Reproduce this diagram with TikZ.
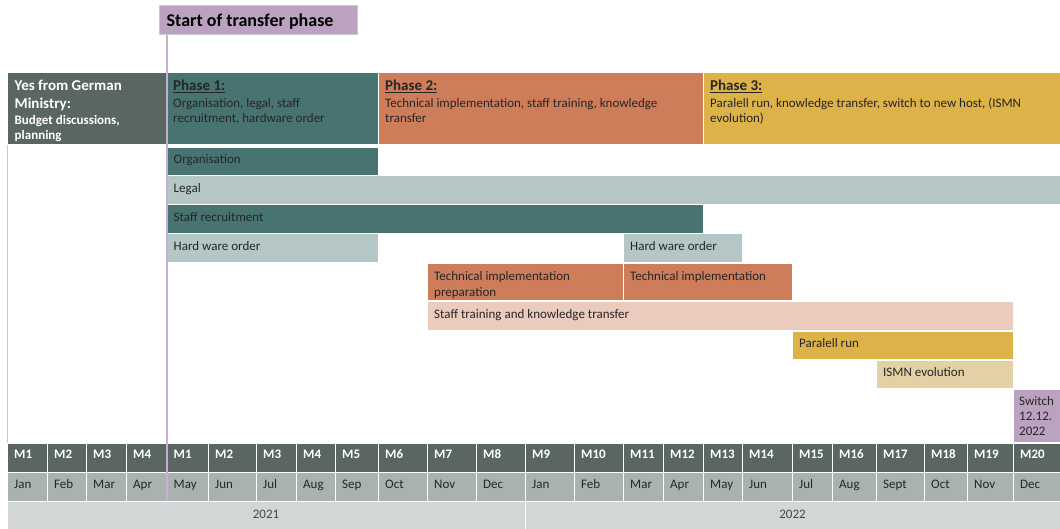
\documentclass[tikz,border=0pt]{standalone}
\usepackage{fontspec}
\setmainfont{Carlito}
\definecolor{hdr}{HTML}{5A6664}
\definecolor{teal}{HTML}{477371}
\definecolor{lightteal}{HTML}{B4C7C6}
\definecolor{orange}{HTML}{CE7D5B}
\definecolor{peach}{HTML}{ECCBBF}
\definecolor{gold}{HTML}{DDB248}
\definecolor{beige}{HTML}{E3D1A5}
\definecolor{lilac}{HTML}{BBA2C1}
\definecolor{lilacline}{HTML}{C7B0CB}
\definecolor{monthrow}{HTML}{AAB2B0}
\definecolor{yearrow}{HTML}{D2D6D6}
\definecolor{gridgray}{HTML}{C9CCCC}
\definecolor{ink}{HTML}{262626}
\newcommand\gbar[7]{%
  \path[cell, fill=#6] (#2,#3) rectangle (#4,#5);
  \node[lbl] (#1) at (#2+7,#3+7) {#7};}
\begin{document}
\begin{tikzpicture}[x=1pt,y=-1pt,
  cell/.style={draw=white, line width=1pt},
  lbl/.style={anchor=north west, inner sep=0pt, font=\fontsize{13}{16}\selectfont, text=ink, align=left},
  phasetxt/.style={anchor=north west, inner sep=0pt, font=\fontsize{13}{15}\selectfont, text=ink, align=left},
  mlbl/.style={anchor=base west, inner sep=0pt, font=\fontsize{13}{15}\selectfont\bfseries, text=white},
  molbl/.style={anchor=base west, inner sep=0pt, font=\fontsize{13}{15}\selectfont, text=ink},
  yrlbl/.style={anchor=base, inner sep=0pt, font=\fontsize{13}{15}\selectfont, text=ink!85}]
\useasboundingbox (0,0) rectangle (1060,529);
\fill[white] (0,0) rectangle (1060,529);

% table outline
\draw[gridgray, line width=1pt] (7,529) -- (7,72.5) -- (1060,72.5);

% left header
\path[cell, fill=hdr] (7,73) rectangle (166.5,145);
\node[anchor=north west, inner sep=0pt, text=white, align=left, font=\fontsize{15}{15}\selectfont\bfseries] (yes) at (14.5,80.3)
  {Yes from German\\[2.6pt]Ministry:\\[0.7pt]\fontsize{13}{15}\selectfont Budget discussions,\\\fontsize{13}{15}\selectfont planning};

% phase headers
\path[cell, fill=teal] (166.5,73) rectangle (378,145);
\node[phasetxt] (ph1) at (173,80) {{\fontsize{15}{15}\selectfont\bfseries\underline{Phase 1:}}\\[1.7pt]Organisation, legal, staff\\recruitment, hardware order};
\path[cell, fill=orange] (378,73) rectangle (703,145);
\node[phasetxt] (ph2) at (385,80) {{\fontsize{15}{15}\selectfont\bfseries\underline{Phase 2:}}\\[1.7pt]Technical implementation, staff training, knowledge\\transfer};
\path[cell, fill=gold] (703,73) rectangle (1060,145);
\node[phasetxt] (ph3) at (710,80) {{\fontsize{15}{15}\selectfont\bfseries\underline{Phase 3:}}\\[1.7pt]Paralell run, knowledge transfer, switch to new host, (ISMN\\evolution)};

% bars
\gbar{org}{166.5}{147.5}{378}{175.5}{teal}{Organisation}
\gbar{legal}{166.5}{176}{1060}{204.5}{lightteal}{Legal}
\gbar{staff}{166.5}{205}{703}{233.5}{teal}{Staff recruitment}
\gbar{hw1}{166.5}{234}{378}{262.5}{lightteal}{Hard ware order}
\gbar{hw2}{623}{234}{742}{262.5}{lightteal}{Hard ware order}
\gbar{tprep}{427}{264}{623}{301}{orange}{Technical implementation\\preparation}
\gbar{timpl}{623}{264}{792}{301}{orange}{Technical implementation}
\gbar{train}{427}{302}{1013}{330.5}{peach}{Staff training and knowledge transfer}
\gbar{prun}{792}{331.5}{1013}{359.5}{gold}{Paralell run}
\gbar{ismn}{876}{360.5}{1013}{388.5}{beige}{ISMN evolution}
\path[cell, fill=lilac] (1013,389) rectangle (1060,442);
\node[anchor=north west, inner sep=0pt, font=\fontsize{13}{15}\selectfont, text=ink, align=left] (switch) at (1019,396) {Switch\\12.12.\\2022};

% month header rows
\foreach \a/\b/\m/\mo in {7/47/M1/Jan,47/86/M2/Feb,86/126/M3/Mar,126/166.5/M4/Apr,
  166.5/208/M1/May,208/256/M2/Jun,256/296/M3/Jul,296/335/M4/Aug,335/378/M5/Sep,
  378/427/M6/Oct,427/476/M7/Nov,476/525/M8/Dec,525/574/M9/Jan,574/623/M10/Feb,
  623/663/M11/Mar,663/703/M12/Apr,703/742/M13/May,742/792/M14/Jun,792/832/M15/Jul,
  832/876/M16/Aug,876/924/M17/Sept,924/967/M18/Oct,967/1013/M19/Nov,1013/1060/M20/Dec}{
  \path[cell, fill=hdr] (\a,443) rectangle (\b,472);
  \node[mlbl] (m-\a) at (\a+7,458.5) {\m};
  \path[cell, fill=monthrow] (\a,472) rectangle (\b,501);
  \node[molbl] (mo-\a) at (\a+7,488.3) {\mo};
}
\path[cell, fill=yearrow] (7,501) rectangle (525,529.5);
\node[yrlbl] (y2021) at (266,518.3) {2021};
\path[cell, fill=yearrow] (525,501) rectangle (1060,529.5);
\node[yrlbl] (y2022) at (792.5,518.3) {2022};

% start of transfer phase
\node[draw=gridgray, line width=0.6pt, fill=lilac, minimum width=198pt, minimum height=29.3pt, anchor=north west, inner sep=0pt] (start) at (159.3,5) {};
\node[anchor=base west, inner sep=0pt, font=\fontsize{18}{20}\selectfont\bfseries, text=black] (starttxt) at (166.5,26.5) {Start of transfer phase};
\coordinate (lineend) at (167,501);
\draw[lilacline, line width=2.4pt] (start.south west -| lineend) -- (lineend);
\end{tikzpicture}
\end{document}
